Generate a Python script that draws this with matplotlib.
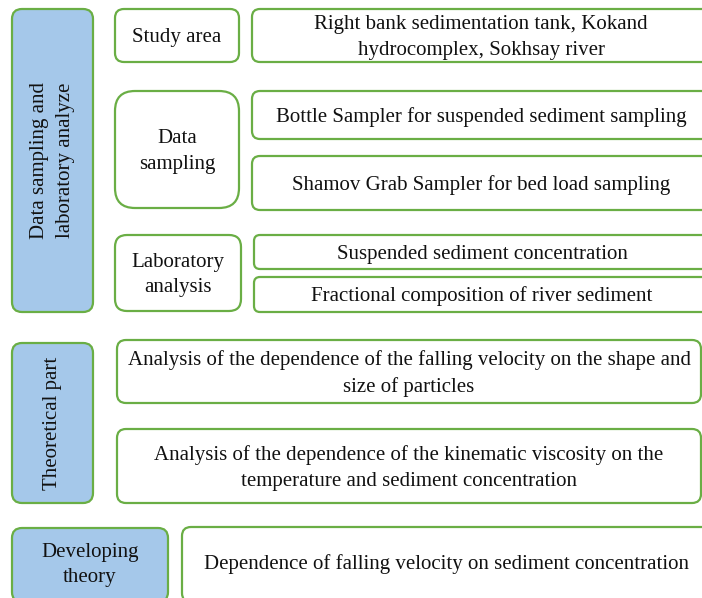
import matplotlib
matplotlib.use("Agg")
import matplotlib.pyplot as plt
from matplotlib.patches import FancyBboxPatch

# labels of the main stages (blue boxes)
stage_labels = [
    "Data sampling and\nlaboratory analyze",
    "Theoretical part",
    "Developing\ntheory",
]
# middle column (white boxes)
step_labels = [
    "Study area",
    "Data\nsampling",
    "Laboratory\nanalysis",
]
# detail boxes
detail_labels = [
    "Right bank sedimentation tank, Kokand\nhydrocomplex, Sokhsay river",
    "Bottle Sampler for suspended sediment sampling",
    "Shamov Grab Sampler for bed load sampling",
    "Suspended sediment concentration",
    "Fractional composition of river sediment",
    "Analysis of the dependence of the falling velocity on the shape and\nsize of particles",
    "Analysis of the dependence of the kinematic viscosity on the\ntemperature and sediment concentration",
    "Dependence of falling velocity on sediment concentration",
]

GREEN = "#6aae45"
BLUE = "#a5c8ea"
FONT = "Liberation Serif"

# box geometry in pixels: x0, y0, x1, y1, corner radius
stage_boxes = [(12, 9, 93, 312, 10), (12, 343, 93, 503, 10), (12, 528, 168, 602, 10)]
stage_rot = [90, 90, 0]
step_boxes = [(115, 9, 239, 62, 9), (115, 91, 239, 208, 20), (115, 235, 241, 311, 12)]
detail_boxes = [
    (252, 9, 712, 62, 8),
    (252, 91, 712, 139, 8),
    (252, 156, 712, 210, 8),
    (254, 235, 712, 269, 6),
    (254, 277, 712, 312, 6),
    (117, 340, 701, 403, 9),
    (117, 429, 701, 503, 9),
    (182, 527, 712, 602, 9),
]


def draw_box(ax, box, label, face, rot=0, size=15):
    x0, y0, x1, y1, r = box
    patch = FancyBboxPatch(
        (x0, y0), x1 - x0, y1 - y0,
        boxstyle=f"round,pad=0,rounding_size={r}",
        facecolor=face, edgecolor=GREEN, linewidth=1.6,
    )
    ax.add_patch(patch)
    cx = (x0 + min(x1, 710)) / 2
    cy = (y0 + min(y1, 598)) / 2
    if rot == 0:
        cy += 2
    ax.text(cx, cy, label, ha="center", va="center", rotation=rot,
            fontsize=size, family=FONT, color="#111111", linespacing=1.45)


fig = plt.figure(figsize=(7.02, 5.98), dpi=100)
ax = fig.add_axes([0, 0, 1, 1])
ax.set_xlim(0, 702)
ax.set_ylim(598, 0)
ax.axis("off")

for box, label, rot in zip(stage_boxes, stage_labels, stage_rot):
    draw_box(ax, box, label, BLUE, rot)
for box, label in zip(step_boxes, step_labels):
    draw_box(ax, box, label, "white")
for box, label in zip(detail_boxes, detail_labels):
    draw_box(ax, box, label, "white")

fig.savefig("out.png", dpi=100)
